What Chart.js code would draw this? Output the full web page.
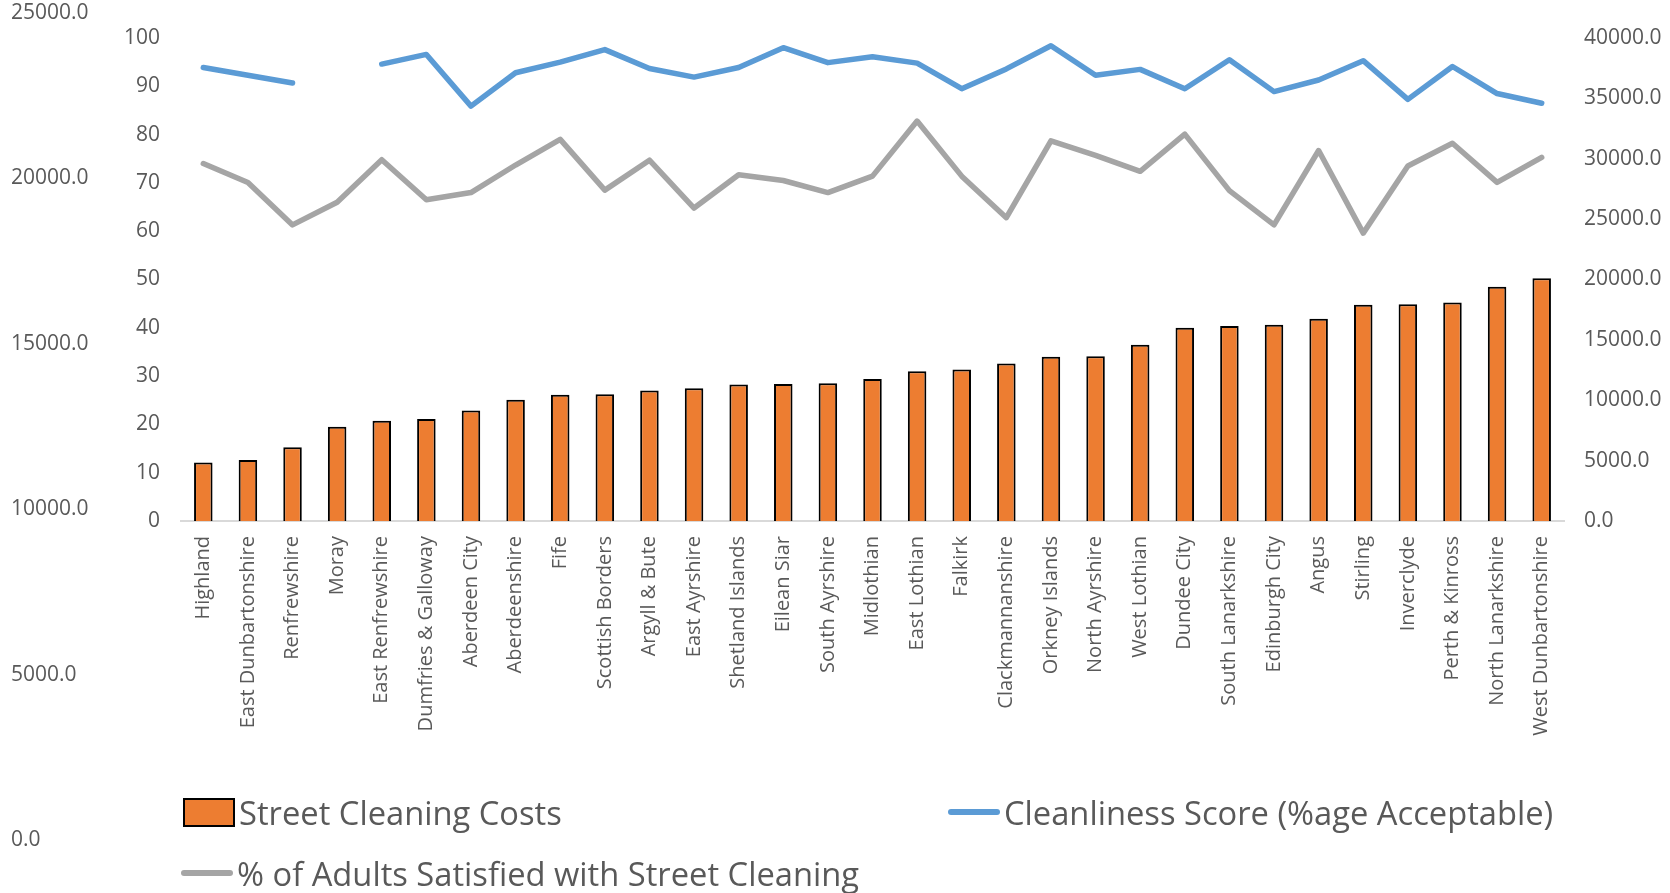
<!DOCTYPE html>
<html>
<head>
<meta charset="utf-8">
<script src="https://cdn.jsdelivr.net/npm/chart.js@4.4.1/dist/chart.umd.min.js"></script>
<style>
  body { margin: 0; background: #fff; }
  #wrap { position: relative; width: 1670px; height: 893px; font-family: "Open Sans", sans-serif; }
  #chart, #outer { position: absolute; left: 0; top: 0; }
  #outer { pointer-events: none; }
  .leg { position: absolute; display: flex; align-items: center; height: 40px; font-size: 32.7px; color: #595959; white-space: nowrap; }
  .leg .key { margin-right: 4px; }
</style>
</head>
<body>
<div id="wrap">
  <canvas id="chart" width="1670" height="893"></canvas>
  <canvas id="outer" width="320" height="893"></canvas>
</div>
<script>
"use strict";

// councils, ordered by cost
var councils = ['Highland', 'East Dunbartonshire', 'Renfrewshire', 'Moray', 'East Renfrewshire',
  'Dumfries & Galloway', 'Aberdeen City', 'Aberdeenshire', 'Fife', 'Scottish Borders',
  'Argyll & Bute', 'East Ayrshire', 'Shetland Islands', 'Eilean Siar', 'South Ayrshire',
  'Midlothian', 'East Lothian', 'Falkirk', 'Clackmannanshire', 'Orkney Islands',
  'North Ayrshire', 'West Lothian', 'Dundee City', 'South Lanarkshire', 'Edinburgh City',
  'Angus', 'Stirling', 'Inverclyde', 'Perth & Kinross', 'North Lanarkshire', 'West Dunbartonshire'];

var streetCosts = [4850, 5050, 6100, 7800, 8300, 8450, 9150, 10050, 10450, 10500,
  10800, 11000, 11300, 11350, 11400, 11750, 12400, 12550, 13050, 13600,
  13650, 14600, 16000, 16150, 16250, 16750, 17900, 17950, 18100, 19400, 20100];

var cleanliness = [93.9, 92.3, 90.7, null, 94.6, 96.6, 85.9, 92.8, 95.0, 97.6,
  93.7, 91.9, 93.9, 98.0, 94.9, 96.1, 94.8, 89.5, 93.6, 98.4,
  92.3, 93.5, 89.5, 95.5, 88.9, 91.3, 95.3, 87.3, 94.1, 88.5, 86.5];

var satisfied = [74.0, 70.1, 61.3, 66.0, 74.8, 66.5, 68.0, 73.7, 79.0, 68.5,
  74.7, 64.8, 71.7, 70.5, 68.0, 71.4, 82.8, 71.4, 62.8, 78.7,
  75.7, 72.4, 80.1, 68.4, 61.3, 76.7, 59.6, 73.5, 78.2, 70.1, 75.3];

// axis ranges: min, max, step
var scoreAxis = [0, 100, 10];
var costAxis = [0, 40000, 5000];
var outerAxis = [0, 25000, 5000];

var tickColor = '#595959';
var tickFont = { family: 'Open Sans', size: 21 };
var oneDecimal = function(v) { return Number(v).toFixed(1); };

var ctx = document.getElementById('chart').getContext('2d');
var myChart = new Chart(ctx, {
	type: 'bar',
	data: {
		labels: councils,
		datasets: [{
			type: 'line',
			label: 'Cleanliness Score (%age Acceptable)',
			data: cleanliness,
			yAxisID: 'y',
			borderColor: '#5B9BD5',
			backgroundColor: '#5B9BD5',
			borderWidth: 5.5,
			pointRadius: 0,
			tension: 0,
			borderCapStyle: 'round',
			borderJoinStyle: 'round',
			fill: false,
			order: 0
		},
		{
			type: 'line',
			label: '% of Adults Satisfied with Street Cleaning',
			data: satisfied,
			yAxisID: 'y',
			borderColor: '#A5A5A5',
			backgroundColor: '#A5A5A5',
			borderWidth: 5.5,
			pointRadius: 0,
			tension: 0,
			borderCapStyle: 'round',
			borderJoinStyle: 'round',
			fill: false,
			order: 1
		},
		{
			type: 'bar',
			label: 'Street Cleaning Costs',
			data: streetCosts,
			yAxisID: 'y1',
			backgroundColor: '#ED7D31',
			borderColor: '#000000',
			borderWidth: 2,
			barPercentage: 0.415,
			categoryPercentage: 1,
			order: 2
		}]
	},
	options: {
		responsive: false,
		animation: false,
		devicePixelRatio: 1,
		layout: { padding: { left: 0, right: 0, top: 38, bottom: 0 } },
		plugins: {
			legend: { display: false },
			tooltip: { enabled: false }
		},
		scales: {
			x: {
				grid: { display: false, drawTicks: false },
				border: { display: true, color: '#D9D9D9', width: 2 },
				ticks: {
					autoSkip: false,
					minRotation: 90,
					maxRotation: 90,
					padding: 15,
					color: tickColor,
					font: { family: 'Open Sans', size: 20 }
				},
				afterFit: function(s) { s.height = 372; }
			},
			y: {
				position: 'left',
				min: scoreAxis[0],
				max: scoreAxis[1],
				ticks: { stepSize: scoreAxis[2], padding: 21, color: tickColor, font: tickFont },
				grid: { display: false, drawTicks: false },
				border: { display: false },
				afterFit: function(s) { s.width = 181; }
			},
			y1: {
				position: 'right',
				min: costAxis[0],
				max: costAxis[1],
				ticks: { stepSize: costAxis[2], padding: 20, color: tickColor, font: tickFont, callback: oneDecimal },
				grid: { display: false, drawTicks: false },
				border: { display: false },
				afterFit: function(s) { s.width = 106; }
			}
		}
	}
});

// the extra left axis (runs the full height)
var ctx2 = document.getElementById('outer').getContext('2d');
var outerChart = new Chart(ctx2, {
	type: 'line',
	data: { labels: [], datasets: [] },
	options: {
		responsive: false,
		animation: false,
		devicePixelRatio: 1,
		layout: { padding: { left: 11, right: 0, top: 13, bottom: 53 } },
		plugins: { legend: { display: false }, tooltip: { enabled: false } },
		scales: {
			x: { display: false },
			y: {
				position: 'left',
				min: outerAxis[0],
				max: outerAxis[1],
				ticks: { stepSize: outerAxis[2], crossAlign: 'far', padding: 0, color: tickColor, font: tickFont, callback: oneDecimal },
				grid: { display: false, drawTicks: false },
				border: { display: false }
			}
		}
	}
});

// legend, two columns like the original
var legendSpots = { 'Street Cleaning Costs': [183, 812],
	'Cleanliness Score (%age Acceptable)': [948, 812],
	'% of Adults Satisfied with Street Cleaning': [181, 873] };
var wrap = document.getElementById('wrap');
myChart.data.datasets.forEach(function(ds) {
	var spot = legendSpots[ds.label];
	var item = document.createElement('div');
	item.className = 'leg';
	item.style.left = spot[0] + 'px';
	item.style.top = (spot[1] - 20) + 'px';
	var key = document.createElement('span');
	key.className = 'key';
	if (ds.type === 'bar') {
		key.style.cssText = 'display:inline-block;width:48px;height:25px;background:' + ds.backgroundColor + ';border:2px solid #000;';
	} else {
		key.style.cssText = 'display:inline-block;width:52px;height:6px;border-radius:3px;background:' + ds.borderColor + ';';
	}
	var txt = document.createElement('span');
	txt.textContent = ds.label;
	item.appendChild(key);
	item.appendChild(txt);
	wrap.appendChild(item);
});
</script>
</body>
</html>
